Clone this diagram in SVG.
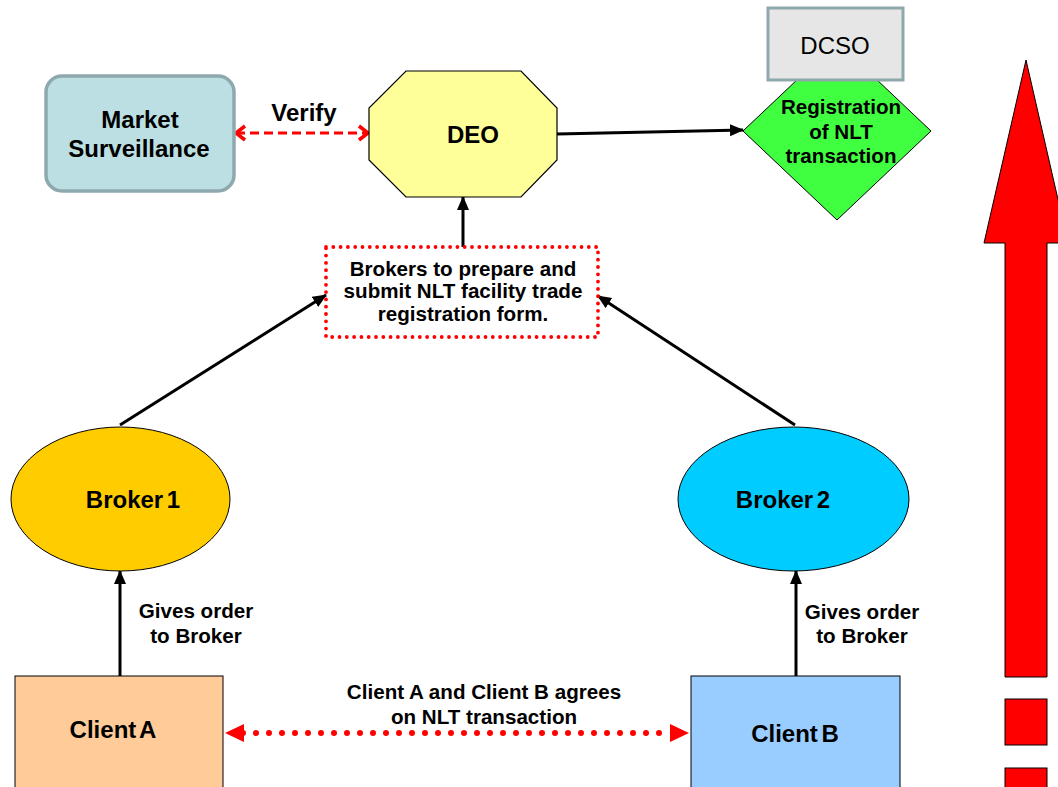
<svg xmlns="http://www.w3.org/2000/svg" width="1058" height="787" viewBox="0 0 1058 787">
<style>
.t{font-family:"Liberation Sans",Arial,sans-serif;font-weight:bold;fill:#000;text-anchor:middle}
.b{font-size:24px}
.s{font-size:20.6px}
.conn{stroke:#000;stroke-width:3;fill:none}
.outl{stroke:#000;stroke-width:1}
</style>
<defs>
<marker id="ah" markerUnits="userSpaceOnUse" markerWidth="16" markerHeight="14" refX="13" refY="6" orient="auto">
<path d="M0,0 L14,6 L0,12 Z" fill="#000"/>
</marker>
<marker id="chev" markerUnits="userSpaceOnUse" markerWidth="16" markerHeight="20" refX="11" refY="9" orient="auto-start-reverse">
<path d="M2,2 L11,9 L2,16" fill="none" stroke="#FF0000" stroke-width="3.5"/>
</marker>
<marker id="rtri" markerUnits="userSpaceOnUse" markerWidth="22" markerHeight="20" refX="19" refY="9" orient="auto-start-reverse">
<path d="M0,0 L19,9 L0,18 Z" fill="#FF0000"/>
</marker>
</defs>

<g id="big-arrow">
<path class="outl" fill="#FF0000" d="M1026,60 L1068,243 L1047,243 L1047,677 L1005,677 L1005,243 L984,243 Z"/>
<rect class="outl" fill="#FF0000" x="1005" y="699" width="42" height="46"/>
<rect class="outl" fill="#FF0000" x="1005" y="768" width="42" height="30"/>
</g>

<g id="connectors">
<line x1="236" y1="133" x2="368" y2="133" stroke="#FF0000" stroke-width="3" stroke-dasharray="9,5" marker-start="url(#chev)" marker-end="url(#chev)"/>
<line class="conn" x1="557" y1="134" x2="743" y2="130" marker-end="url(#ah)"/>
<line class="conn" x1="463" y1="247" x2="463" y2="197" marker-end="url(#ah)"/>
<line class="conn" x1="120" y1="425" x2="326" y2="295" marker-end="url(#ah)"/>
<line class="conn" x1="795" y1="425" x2="598" y2="296" marker-end="url(#ah)"/>
<line class="conn" x1="120" y1="676" x2="120" y2="571" marker-end="url(#ah)"/>
<line class="conn" x1="796" y1="676" x2="796" y2="571" marker-end="url(#ah)"/>
<line x1="243" y1="733" x2="671" y2="733" stroke="#FF0000" stroke-width="6" stroke-linecap="round" stroke-dasharray="0,13"/>
<line x1="225" y1="733" x2="689" y2="733" stroke="none" marker-start="url(#rtri)" marker-end="url(#rtri)"/>
<text class="t b" x="304" y="121">Verify</text>
<text class="t s" x="196" y="618">Gives order</text>
<text class="t s" x="196" y="643">to Broker</text>
<text class="t s" x="862" y="619">Gives order</text>
<text class="t s" x="862" y="643">to Broker</text>
<text class="t s" x="484" y="699">Client A and Client B agrees</text>
<text class="t s" x="484" y="724">on NLT transaction</text>
</g>

<g id="market-surveillance">
<rect x="46" y="76" width="188" height="115" rx="16" fill="#BCDFE3" stroke="#8EA9AD" stroke-width="3.5"/>
<text class="t b" x="140" y="128">Market</text>
<text class="t b" x="139" y="157">Surveillance</text>
</g>

<g id="deo">
<polygon points="406,71 521,71 557,108 557,160 521,197 406,197 369,160 369,108" fill="#FFFF99" stroke="#000" stroke-width="1.2"/>
<text class="t b" x="473" y="143">DEO</text>
</g>

<g id="registration">
<polygon points="837,42 931,131 837,220 743,131" fill="#40FF40" stroke="#000" stroke-width="1"/>
<text class="t s" x="841" y="114">Registration</text>
<text class="t s" x="841" y="139">of NLT</text>
<text class="t s" x="841" y="163">transaction</text>
</g>

<g id="dcso">
<rect x="768" y="8" width="135" height="72" fill="#E6E6E6" stroke="#8FA8AB" stroke-width="3"/>
<text x="835" y="54" font-family="Liberation Sans, Arial, sans-serif" font-size="24" text-anchor="middle" fill="#000">DCSO</text>
</g>

<g id="brokers-form">
<rect x="326" y="247" width="272" height="90" fill="none" stroke="#FF0000" stroke-width="3.8" stroke-linecap="round" stroke-dasharray="0,7.3"/>
<text class="t s" x="463" y="276">Brokers to prepare and</text>
<text class="t s" x="463" y="298">submit NLT facility  trade</text>
<text class="t s" x="463" y="321">registration form.</text>
</g>

<g id="broker1">
<ellipse cx="120.5" cy="499" rx="109.5" ry="72" fill="#FFCC00" stroke="#000" stroke-width="1"/>
<text class="t b" x="133" y="508" word-spacing="-3">Broker 1</text>
</g>

<g id="broker2">
<ellipse cx="793.5" cy="499" rx="115.5" ry="72" fill="#00CCFF" stroke="#000" stroke-width="1"/>
<text class="t b" x="783" y="508" word-spacing="-3">Broker 2</text>
</g>

<g id="client-a">
<rect x="15" y="676" width="208" height="130" fill="#FFCC99" stroke="#000" stroke-width="1"/>
<text class="t b" x="113" y="738" word-spacing="-3">Client A</text>
</g>

<g id="client-b">
<rect x="691" y="676" width="209" height="130" fill="#99CCFF" stroke="#000" stroke-width="1"/>
<text class="t b" x="795" y="742" word-spacing="-3">Client B</text>
</g>
</svg>
